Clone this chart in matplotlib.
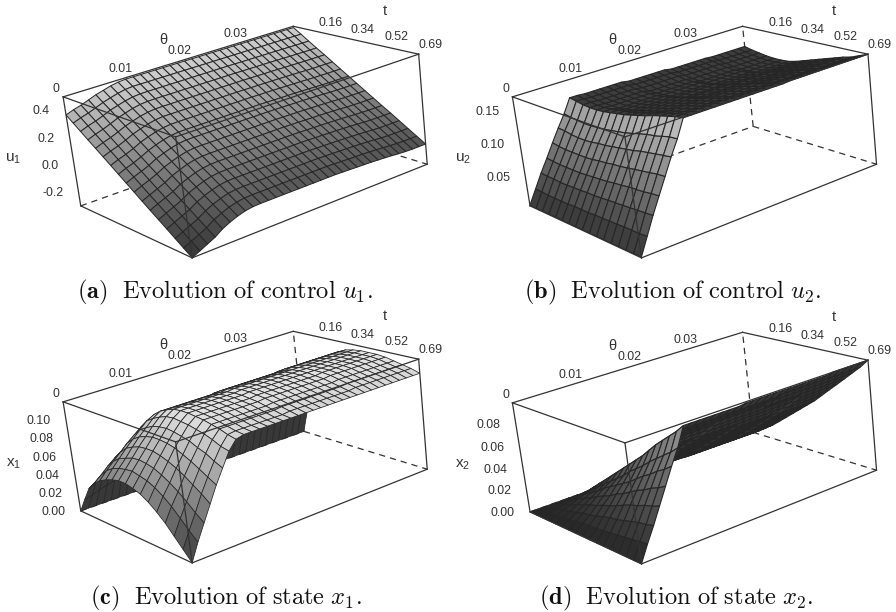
import numpy as np
import matplotlib
matplotlib.use('Agg')
import matplotlib.pyplot as plt

plt.rcParams['font.family'] = ['Liberation Sans', 'DejaVu Sans']
plt.rcParams['mathtext.fontset'] = 'custom'
plt.rcParams['mathtext.rm'] = 'Liberation Sans'
plt.rcParams['mathtext.it'] = 'Liberation Sans'

theta = [0, .00125, .0025, .00375, .005, .00625, .0075, .00875, .01, .01125, .0125, .01375, .015, .01625, .0175,
         .01875, .02, .02125, .0225, .02375, .025, .02625, .0275, .02875, .03, .03125, .0325, .03375, .035, .03625,
         .0375, .03875, .04]
t = [0, .043, .086, .129, .173, .216, .259, .302, .345, .388, .431, .474, .518, .561, .604, .647, .69]

theta_ticks = [0, 0.01, 0.02, 0.03]
t_ticks = [0.16, 0.34, 0.52, 0.69]
u1_ticks = [-0.2, 0.0, 0.2, 0.4]
u2_ticks = [0.05, 0.10, 0.15]
x1_ticks = [0.00, 0.02, 0.04, 0.06, 0.08, 0.10]
x2_ticks = [0.00, 0.02, 0.04, 0.06, 0.08]

# one row per t value, left to right along theta
u1 = [
    [.37, .39, .405, .425, .445, .46, .475, .485, .49] + [.49] * 11 + [.49] * 13,
    [.328, .348, .364, .384, .405, .421, .436, .447, .452] + [.452] * 11 + [.452] * 6 + [.451] * 7,
    [.286, .307, .323, .344, .366, .382, .397, .408, .413] + [.414] * 11 + [.414, .414, .413, .413, .413, .412, .412, .412, .411, .411, .41, .41, .41],
    [.244, .265, .282, .303, .326, .343, .359, .37, .375] + [.376] * 11 + [.376, .375, .375, .374, .374, .374, .373, .372, .371, .371, .37, .37, .37],
    [.202, .224, .241, .263, .286, .304, .32, .331, .337] + [.338] * 11 + [.338, .337, .337, .336, .336, .335, .334, .333, .332, .331, .331, .331, .331],
    [.161, .182, .2, .222, .247, .265, .281, .293, .299] + [.299] * 11 + [.298, .298, .297, .297, .296, .295, .294, .293, .291, .29, .29, .29, .29],
    [.119, .141, .159, .181, .207, .226, .242, .254, .26] + [.261] * 11 + [.26, .26, .259, .258, .257, .256, .255, .253, .252, .251, .25, .25, .25],
    [.077, .099, .118, .141, .167, .187, .204, .216, .222] + [.223] * 11 + [.222, .221, .22, .219, .219, .217, .216, .214, .212, .211, .21, .21, .21],
    [.035, .058, .078, .1, .128, .148, .165, .178, .184] + [.185] * 11 + [.184, .183, .182, .181, .18, .178, .177, .175, .172, .171, .17, .17, .17],
    [-.007, .016, .037, .06, .088, .108, .126, .139, .146] + [.147] * 11 + [.146, .145, .144, .143, .141, .14, .138, .136, .133, .131, .13, .13, .13],
    [-.049, -.026, -.004, .019, .048, .069, .088, .101, .107] + [.109] * 11 + [.108, .107, .105, .104, .103, .101, .099, .097, .093, .092, .09, .09, .09],
    [-.091, -.067, -.045, -.022, .008, .03, .049, .062, .069] + [.071] * 11 + [.07, .068, .067, .066, .064, .062, .06, .057, .054, .052, .05, .05, .05],
    [-.133, -.109, -.086, -.062, -.031, -.009, .01, .024, .031] + [.033] * 11 + [.032, .03, .029, .027, .026, .023, .021, .018, .014, .012, .011, .011, .011],
    [-.174, -.15, -.127, -.103, -.071, -.048, -.029, -.015, -.007] + [-.006] * 11 + [-.008, -.009, -.011, -.012, -.014, -.017, -.019, -.022, -.026, -.029, -.03, -.03, -.03],
    [-.216, -.192, -.168, -.144, -.111, -.087, -.068, -.053, -.046] + [-.044] * 11 + [-.046, -.047, -.049, -.051, -.053, -.055, -.058, -.062, -.066, -.069, -.07, -.07, -.07],
    [-.258, -.233, -.209, -.184, -.15, -.126, -.106, -.092, -.084] + [-.082] * 11 + [-.084, -.086, -.088, -.09, -.091, -.094, -.097, -.101, -.105, -.108, -.11, -.11, -.11],
    [-.3, -.275, -.25, -.225, -.19, -.165, -.145, -.13, -.122] + [-.12] * 11 + [-.122, -.124, -.126, -.128, -.13, -.133, -.136, -.14, -.145, -.148, -.15, -.15, -.15],
]

u2 = [
    [.006, .027, .048, .067, .087, .106, .124, .145, .145] + [.144] * 6 + [.142] * 6 + [.14] * 6 + [.139] * 6,
    [.006, .027, .047, .066, .085, .105, .122, .143, .143] + [.142] * 6 + [.14] * 6 + [.138] * 6 + [.136] * 6,
    [.006, .026, .047, .065, .084, .103, .121, .141, .141] + [.14] * 6 + [.138] * 6 + [.136] * 6 + [.134] * 6,
    [.006, .026, .046, .065, .084, .102, .12, .14, .14] + [.139] * 6 + [.136] * 6 + [.134] * 6 + [.132] * 6,
    [.006, .026, .046, .065, .084, .102, .12, .14, .14] + [.139] * 6 + [.136] * 6 + [.133] * 6 + [.131] * 6,
    [.006, .026, .047, .065, .084, .103, .121, .141, .141] + [.139] * 6 + [.137] * 6 + [.134] * 6 + [.131] * 6,
    [.006, .027, .047, .066, .085, .105, .122, .143, .143] + [.141] * 6 + [.138] * 6 + [.135] * 6 + [.132] * 6,
    [.006, .027, .048, .067, .087, .106, .124, .145, .145] + [.143] * 6 + [.141] * 6 + [.138] * 6 + [.135] * 6,
    [.006, .027, .048, .068, .088, .108, .126, .147, .147] + [.146] * 6 + [.143] * 6 + [.141] * 6 + [.139] * 6,
    [.006, .028, .049, .069, .09, .11, .128, .15, .15] + [.149] * 6 + [.147] * 6 + [.145] * 6 + [.143] * 6,
    [.006, .028, .05, .071, .091, .112, .131, .153, .153] + [.152] * 6 + [.15] * 6 + [.148] * 6 + [.147] * 6,
    [.006, .029, .051, .072, .093, .114, .134, .156, .156] + [.155] * 6 + [.154] * 6 + [.152] * 6 + [.151] * 6,
    [.006, .029, .052, .074, .095, .117, .137, .16, .16] + [.159] * 6 + [.158] * 6 + [.156] * 6 + [.155] * 6,
    [.006, .03, .053, .075, .097, .119, .139, .163, .163] + [.162] * 6 + [.161] * 6 + [.16] * 6 + [.159] * 6,
    [.006, .03, .054, .076, .099, .121, .142, .166, .166] + [.165] * 6 + [.164] * 6 + [.163] * 6 + [.162] * 6,
    [.006, .03, .055, .078, .101, .123, .145, .169, .169] + [.169] * 6 + [.168] * 6 + [.168] * 6 + [.167] * 6,
    [.006, .031, .056, .079, .102, .125, .146, .171, .171] + [.171] * 6 + [.171] * 6 + [.172] * 6 + [.172] * 6,
]

x1 = [
    [0] * 8 + [0] * 25,
    [.016, .018, .021, .023, .025, .027, .029, .03] + [.03] * 7 + [.031] * 9 + [.033] * 9,
    [.031, .036, .04, .044, .048, .052, .056, .058] + [.058] * 7 + [.06] * 9 + [.062] * 9,
    [.04, .046, .053, .059, .064, .07, .075, .078] + [.078] * 7 + [.08] * 9 + [.082] * 9,
    [.046, .054, .061, .068, .075, .081, .087, .091] + [.091] * 7 + [.093] * 9 + [.095] * 9,
    [.05, .059, .067, .075, .082, .089, .096, .1] + [.1] * 7 + [.102] * 9 + [.103] * 9,
    [.053, .062, .07, .079, .087, .094, .101, .106] + [.106] * 7 + [.107] * 9 + [.108] * 9,
    [.055, .064, .073, .082, .09, .098, .105, .11] + [.11] * 7 + [.111] * 9 + [.112] * 9,
    [.055, .065, .074, .083, .092, .1, .108, .113] + [.113] * 7 + [.114] * 9 + [.114] * 9,
    [.053, .063, .073, .083, .092, .101, .109, .114] + [.114] * 7 + [.115] * 9 + [.115] * 9,
    [.05, .061, .071, .081, .091, .1, .108, .114] + [.114] * 7 + [.115] * 9 + [.115] * 9,
    [.045, .057, .067, .078, .089, .098, .107, .113] + [.113] * 7 + [.114] * 9 + [.115] * 9,
    [.038, .051, .062, .074, .085, .096, .105, .112] + [.112] * 7 + [.113] * 9 + [.114] * 9,
    [.03, .044, .056, .069, .081, .092, .103, .11] + [.11] * 7 + [.111] * 9 + [.112] * 9,
    [.02, .035, .049, .063, .076, .089, .1, .108] + [.108] * 7 + [.109] * 9 + [.11] * 9,
    [.01, .026, .041, .057, .071, .084, .096, .105] + [.106] * 7 + [.107] * 9 + [.108] * 9,
    [0, .018, .034, .05, .066, .08, .094, .103] + [.105] * 7 + [.105] * 9 + [.105] * 9,
]

x2 = [
    [0] * 8 + [0] * 25,
    [0, .001, .001, .002, .003, .004, .004, .005, .005] + [.005] * 6 + [.005] * 6 + [.004] * 6 + [.004] * 6,
    [0, .002, .003, .005, .006, .008, .009, .011, .011] + [.011] * 6 + [.01] * 6 + [.01] * 6 + [.009] * 6,
    [0, .002, .005, .007, .01, .012, .014, .017, .017] + [.017] * 6 + [.016] * 6 + [.015] * 6 + [.014] * 6,
    [0, .003, .006, .01, .013, .016, .019, .023, .023] + [.023] * 6 + [.022] * 6 + [.021] * 6 + [.02] * 6,
    [0, .004, .008, .012, .016, .02, .024, .029, .029] + [.029] * 6 + [.028] * 6 + [.027] * 6 + [.026] * 6,
    [0, .005, .01, .015, .02, .025, .029, .035, .035] + [.035] * 6 + [.034] * 6 + [.033] * 6 + [.032] * 6,
    [0, .006, .011, .017, .023, .029, .034, .041, .041] + [.041] * 6 + [.04] * 6 + [.039] * 6 + [.038] * 6,
    [0, .007, .013, .02, .026, .033, .039, .047, .047] + [.047] * 6 + [.046] * 6 + [.045] * 6 + [.044] * 6,
    [0, .007, .015, .022, .03, .037, .045, .053, .053] + [.053] * 6 + [.052] * 6 + [.051] * 6 + [.05] * 6,
    [0, .008, .017, .025, .033, .041, .05, .059, .059] + [.059] * 6 + [.058] * 6 + [.058] * 6 + [.057] * 6,
    [0, .009, .018, .028, .037, .046, .055, .066, .066] + [.066] * 6 + [.065] * 6 + [.065] * 6 + [.064] * 6,
    [0, .01, .02, .031, .041, .051, .061, .073, .073] + [.073] * 6 + [.072] * 6 + [.072] * 6 + [.071] * 6,
    [0, .011, .022, .033, .044, .055, .066, .079, .079] + [.079] * 6 + [.079] * 6 + [.078] * 6 + [.078] * 6,
    [0, .012, .024, .036, .048, .06, .071, .085, .085] + [.085] * 6 + [.085] * 6 + [.085] * 6 + [.085] * 6,
    [0, .013, .025, .038, .051, .064, .076, .091, .091] + [.091] * 6 + [.091] * 6 + [.092] * 6 + [.092] * 6,
    [0, .014, .027, .041, .055, .069, .082, .098, .098] + [.098] * 6 + [.099] * 6 + [.099] * 6 + [.1] * 6,
]

# camera and box that reproduce the box corners of the picture
ELEV, AZIM, ROLL, FOCAL = 18.665, -34.5593, 6.8137, 0.7358
ASPECT = (1, 1.4581, 0.5824)
L, LEFT, BOTTOM = 361.29, 62.04, 316.52
W, H = 896, 612

t_max, th_max = t[-1], theta[-1]


def draw_panel(fig, dx, dy, z, zlim, zticks, zfmt, zlab, lo, hi, lw, flat_grey, caption, cap_x, cap_y):
    ax = fig.add_axes([(LEFT + dx) / W, 1 - (BOTTOM + dy) / H, L / W, L / H], projection='3d')
    ax.patch.set_visible(False)
    ax.set_axis_off()
    ax.computed_zorder = False
    ax.set_xlim(0, t_max)
    ax.set_ylim(0, th_max)
    ax.set_zlim(*zlim)
    ax.set_box_aspect(ASPECT, zoom=1)
    ax.view_init(ELEV, AZIM, ROLL)
    ax.set_proj_type('persp', focal_length=FOCAL)

    Z = np.array(z, float)
    X, Y = np.meshgrid(t, theta, indexing='ij')
    zr = zlim[1] - zlim[0]

    # grey by height, dark where we look at the underside
    cell = (Z[:-1, :-1] + Z[1:, :-1] + Z[:-1, 1:] + Z[1:, 1:]) / 4
    grey = lo + (hi - lo) * np.clip((cell - zlim[0]) / zr, 0, 1)
    dzdx = ((Z[1:, :-1] + Z[1:, 1:]) - (Z[:-1, :-1] + Z[:-1, 1:])) / 2 / zr * ASPECT[2] / (np.diff(t)[:, None] / t_max)
    dzdy = ((Z[:-1, 1:] + Z[1:, 1:]) - (Z[:-1, :-1] + Z[1:, :-1])) / 2 / zr * ASPECT[2] / (np.diff(theta)[None, :] / th_max) / ASPECT[1]
    e, a = np.radians(ELEV), np.radians(AZIM)
    facing = -np.cos(e) * np.cos(a) * dzdx - np.cos(e) * np.sin(a) * dzdy + np.sin(e)
    grey = np.where(facing < 0, 0.22, grey)
    if flat_grey is not None:
        grey = np.where(facing < 0.5, flat_grey, grey)
    colors = np.dstack([grey, grey, grey, np.ones_like(grey)])

    edge = '#333333'
    def line(p, q, **kw):
        ax.plot([p[0] * t_max, q[0] * t_max], [p[1] * th_max, q[1] * th_max],
                [zlim[0] + p[2] * zr, zlim[0] + q[2] * zr], color=edge, lw=0.9, clip_on=False, **kw)

    for p, q in [((0, 0, 0), (0, 1, 0)), ((0, 1, 0), (1, 1, 0)), ((0, 1, 0), (0, 1, 1))]:
        line(p, q, ls=(0, (5, 4)), zorder=1)

    surf = ax.plot_surface(X, Y, Z, rstride=1, cstride=1, facecolors=colors, shade=False, linewidth=lw, zorder=2)
    surf.set_edgecolor('#262626')
    surf.set_clip_on(False)

    for p, q in [((0, 0, 1), (0, 1, 1)), ((0, 1, 1), (1, 1, 1)), ((1, 1, 1), (1, 0, 1)), ((1, 0, 1), (0, 0, 1)),
                 ((0, 0, 1), (0, 0, 0)), ((1, 1, 1), (1, 1, 0)), ((1, 0, 1), (1, 0, 0)),
                 ((0, 0, 0), (1, 0, 0)), ((1, 0, 0), (1, 1, 0))]:
        line(p, q, zorder=3)

    txt = dict(color='#333333', fontsize=8.9, zorder=4)
    for v in theta_ticks:
        off, up = (-0.06, 0.05) if v == 0 else (-0.03, 0.07)
        ax.text(off * t_max, v, zlim[1] + up * zr, '%g' % v, ha='center', va='center', **txt)
    for v in t_ticks:
        ax.text(v, th_max * 1.055, zlim[1] + 0.05 * zr, '%.2f' % v, ha='center', va='center', **txt)
    for v in zticks:
        ax.text(0, -0.058 * th_max, v + 0.04 * zr, zfmt % v, ha='right', va='center', **txt)
    ax.text(0.67 * t_max, 1.06 * th_max, zlim[1] + 0.27 * zr, 't', ha='center', va='center', color='#333333', fontsize=10.5, zorder=4)
    ax.text(0, 0.425 * th_max, zlim[1] + 0.23 * zr, 'θ', ha='center', va='center', color='#333333', fontsize=10.5, zorder=4)
    ax.text(0, -0.22 * th_max, zlim[0] + 0.61 * zr, zlab, ha='center', va='center', color='#333333', fontsize=11, zorder=4)

    fig.text(cap_x / W, 1 - cap_y / H, caption, ha='center', va='center', fontsize=17.6, color='#111111', math_fontfamily='cm')
    return ax


fig = plt.figure(figsize=(W / 100, H / 100), dpi=100)

draw_panel(fig, 0, 0, u1, (-0.3, 0.5), u1_ticks, '%.1f', r'$\mathrm{u_1}$', 0.2, 0.82, 0.7, None,
           r'$\mathbf{(a)}\ \ \mathrm{Evolution\ of\ control}\ u_1.$', 225, 292)
draw_panel(fig, 449.3, 0, u2, (0.005, 0.172), u2_ticks, '%.2f', r'$\mathrm{u_2}$', 0.2, 0.78, 0.8, 0.24,
           r'$\mathbf{(b)}\ \ \mathrm{Evolution\ of\ control}\ u_2.$', 673, 292)
draw_panel(fig, 0, 305, x1, (0, 0.12), x1_ticks, '%.2f', r'$\mathrm{x_1}$', 0.22, 0.92, 0.55, None,
           r'$\mathbf{(c)}\ \ \mathrm{Evolution\ of\ state}\ x_1.$', 226, 598)
draw_panel(fig, 449.3, 306, x2, (0, 0.10), x2_ticks, '%.2f', r'$\mathrm{x_2}$', 0.15, 0.6, 0.8, None,
           r'$\mathbf{(d)}\ \ \mathrm{Evolution\ of\ state}\ x_2.$', 676, 598)

fig.savefig('out.png', dpi=100)
